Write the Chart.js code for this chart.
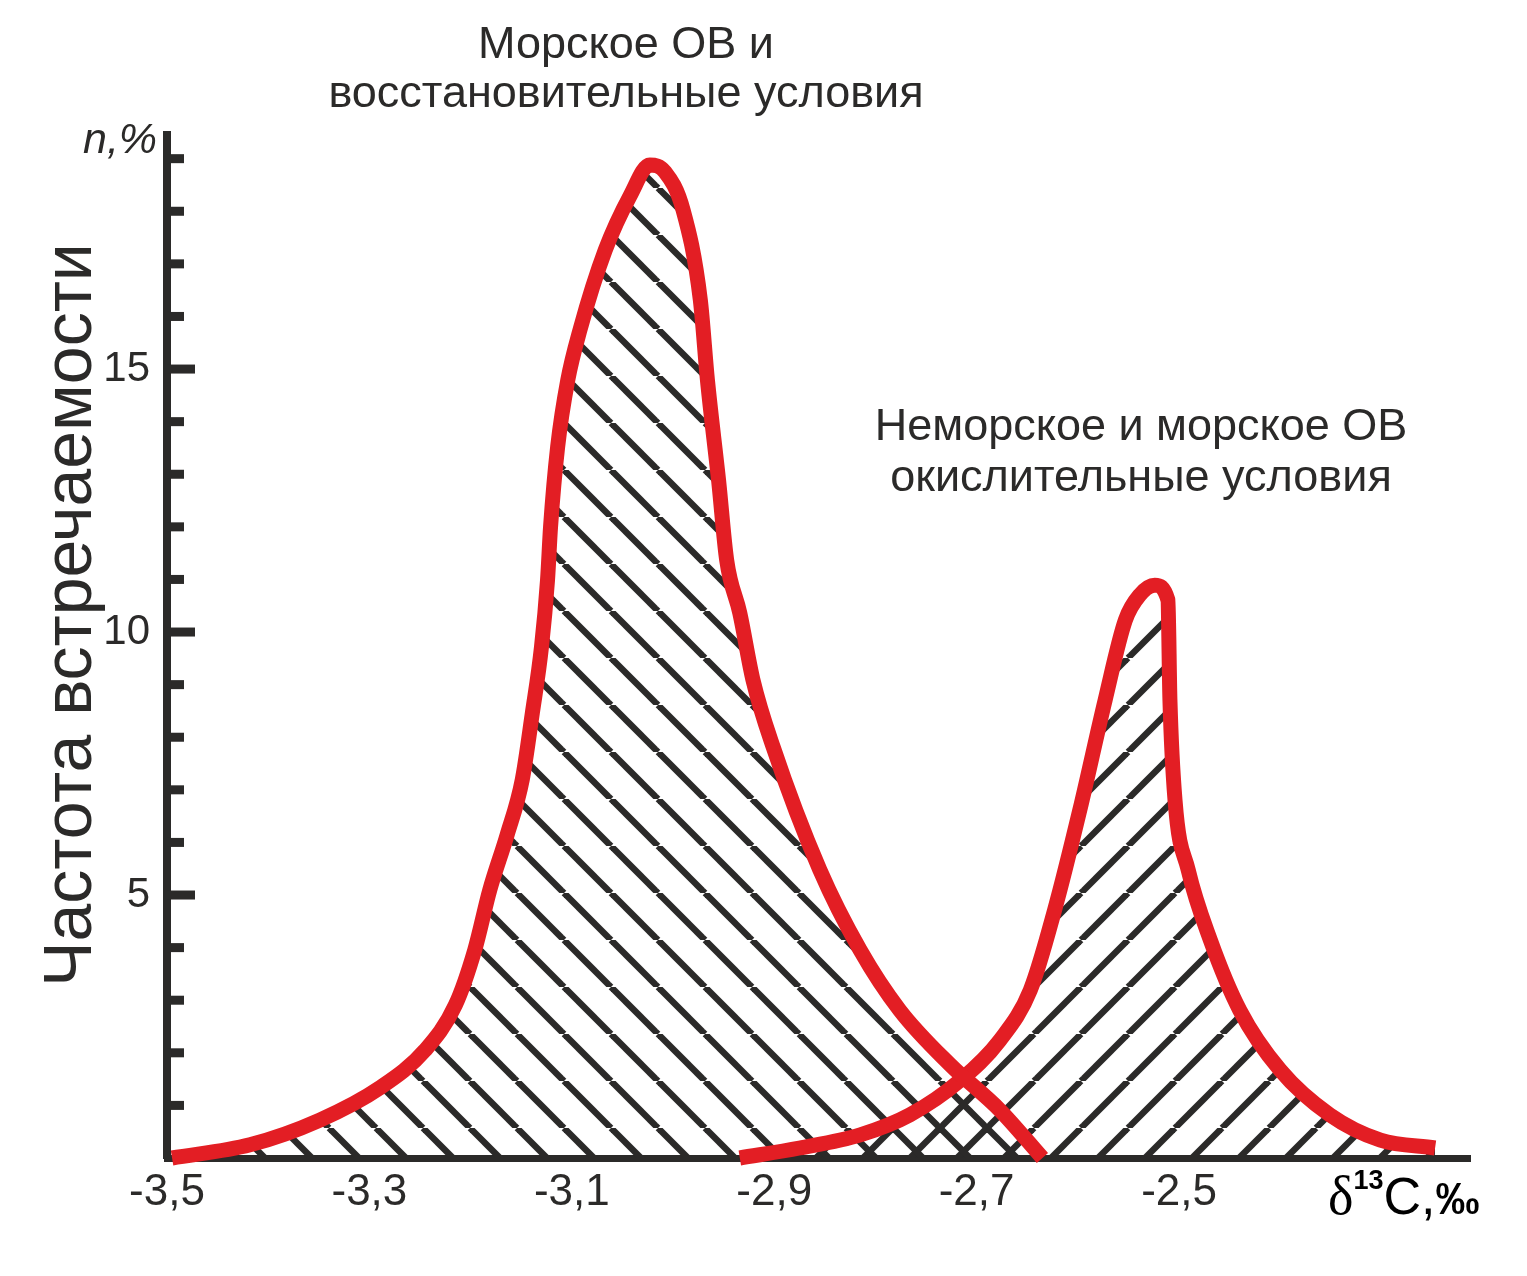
<!DOCTYPE html>
<html>
<head>
<meta charset="utf-8">
<script src="https://cdn.jsdelivr.net/npm/chart.js@4/dist/chart.umd.min.js"></script>
<style>
  html, body { margin: 0; padding: 0; background: #fff; }
  #wrap { width: 1527px; height: 1276px; }
</style>
</head>
<body>
<div id="wrap"><canvas id="chart" width="1527" height="1276"></canvas></div>
<script>
// x ticks (δ13C, ‰)
const xTickValues = [-3.5, -3.3, -3.1, -2.9, -2.7, -2.5];
const yLabelValues = [5, 10, 15];

// Морское ОВ, восстановительные условия
const marineX = [-3.495, -3.418, -3.349, -3.29, -3.245, -3.215, -3.196, -3.181, -3.164, -3.149, -3.139, -3.13, -3.124, -3.121, -3.114, -3.104, -3.092, -3.067, -3.042, -3.023, -3.008, -2.99, -2.973, -2.966, -2.955, -2.947, -2.934, -2.921, -2.901, -2.855, -2.815, -2.776, -2.726, -2.677, -2.635];
const marineY = [0, 0.25, 0.72, 1.33, 2.05, 2.91, 3.95, 5.1, 6.14, 7.19, 8.46, 9.71, 10.99, 12.0, 13.52, 14.79, 15.74, 17.26, 18.31, 18.88, 18.75, 18.02, 16.31, 14.79, 12.89, 11.37, 10.36, 9.09, 7.81, 5.48, 3.95, 2.81, 1.77, 0.91, 0];

// Неморское и морское ОВ, окислительные условия
const mixedX = [-2.934, -2.875, -2.815, -2.766, -2.716, -2.677, -2.647, -2.623, -2.598, -2.573, -2.553, -2.539, -2.524, -2.511, -2.509, -2.504, -2.491, -2.469, -2.44, -2.4, -2.351, -2.301, -2.247];
const mixedY = [0, 0.19, 0.44, 0.82, 1.48, 2.24, 3.19, 4.71, 6.62, 8.71, 10.23, 10.7, 10.89, 10.61, 8.71, 6.81, 5.48, 4.14, 2.81, 1.67, 0.82, 0.34, 0.19];

const ink = '#2b2a29';
const red = '#e31e24';

// diagonal hatch, dir 1 = "\", dir -1 = "/"
function hatch(dir) {
    const s = 47;
    const c = document.createElement('canvas');
    c.width = s; c.height = s;
    const g = c.getContext('2d');
    g.strokeStyle = ink;
    g.lineWidth = 6.5;
    for (let k = -1; k <= 1; k++) {
        g.beginPath();
        if (dir > 0) {
            g.moveTo(k * s, 0); g.lineTo(k * s + s, s);
        } else {
            g.moveTo(k * s, s); g.lineTo(k * s + s, 0);
        }
        g.stroke();
    }
    return g.createPattern(c, 'repeat');
}

const toPoints = (xs, ys) => xs.map((x, i) => ({ x: x, y: ys[i] }));

// ticks on the inner side of the y axis + free text
const extras = {
    id: 'extras',
    afterDraw(chart) {
        const ctx = chart.ctx;
        const ys = chart.scales.y;
        const left = chart.chartArea.left;
        ctx.save();
        ctx.fillStyle = ink;
        for (let v = 1; v <= 19; v++) {
            const py = ys.getPixelForValue(v);
            const len = v % 5 === 0 ? 28 : 17;
            ctx.fillRect(left, py - 4.5, len, 9);
        }

        ctx.textAlign = 'center';
        ctx.textBaseline = 'alphabetic';
        ctx.font = '45px "Liberation Sans", Arial, sans-serif';
        ctx.fillText('Морское ОВ и', 626, 58);
        ctx.fillText('восстановительные условия', 626, 107);
        ctx.fillText('Неморское и морское ОВ', 1141, 440);
        ctx.fillText('окислительные условия', 1141, 491);

        // y title
        ctx.save();
        ctx.translate(91, 615);
        ctx.rotate(-Math.PI / 2);
        ctx.font = '68px "Liberation Sans", Arial, sans-serif';
        ctx.fillText('Частота встречаемости', 0, 0);
        ctx.restore();

        // n,%
        ctx.textAlign = 'left';
        ctx.font = 'italic 43px "Liberation Sans", Arial, sans-serif';
        ctx.fillText('n,%', 83, 153);

        // δ13C,‰
        ctx.fillStyle = '#000';
        let x = 1328;
        const base = 1214;
        ctx.font = '54px "Liberation Serif", serif';
        ctx.fillText('δ', x, base);
        x += ctx.measureText('δ').width;
        ctx.font = 'bold 27px "Liberation Sans", Arial, sans-serif';
        ctx.fillText('13', x, base - 25);
        x += ctx.measureText('13').width;
        ctx.font = '52px "Liberation Sans Narrow", "Liberation Sans", Arial, sans-serif';
        ctx.fillText('C,', x, base);
        x += ctx.measureText('C,').width;
        ctx.font = 'bold 44px "Liberation Sans", Arial, sans-serif';
        ctx.fillText('‰', x, base);
        ctx.restore();
    }
};

new Chart(document.getElementById('chart').getContext('2d'), {
    type: 'line',
    data: {
        datasets: [
            {
                label: 'Морское ОВ и восстановительные условия',
                data: toPoints(marineX, marineY),
                borderColor: red,
                borderWidth: 15,
                backgroundColor: hatch(1),
                fill: 'origin',
                pointRadius: 0,
                cubicInterpolationMode: 'monotone',
                borderCapStyle: 'butt',
                clip: false
            },
            {
                label: 'Неморское и морское ОВ окислительные условия',
                data: toPoints(mixedX, mixedY),
                borderColor: red,
                borderWidth: 15,
                backgroundColor: hatch(-1),
                fill: 'origin',
                pointRadius: 0,
                cubicInterpolationMode: 'monotone',
                borderCapStyle: 'butt',
                clip: false
            }
        ]
    },
    options: {
        responsive: false,
        animation: false,
        layout: { padding: { top: 135, right: 57, left: 0, bottom: 0 } },
        plugins: {
            legend: { display: false },
            tooltip: { enabled: false },
            filler: { drawTime: 'beforeDatasetsDraw' }
        },
        scales: {
            x: {
                type: 'linear',
                min: -3.5,
                max: -2.2125,
                afterFit: s => { s.height = 118; },
                afterBuildTicks: s => { s.ticks = xTickValues.map(v => ({ value: v })); },
                grid: { display: false, drawTicks: false },
                border: { display: true, color: ink, width: 7 },
                ticks: {
                    padding: 8,
                    color: ink,
                    font: { family: '"Liberation Sans", Arial, sans-serif', size: 44 },
                    callback: v => String(v.toFixed(1)).replace('.', ',')
                }
            },
            y: {
                min: 0,
                max: 19.45,
                afterFit: s => { s.width = 167; },
                afterBuildTicks: s => { s.ticks = yLabelValues.map(v => ({ value: v })); },
                grid: { display: false, drawTicks: false },
                border: { display: true, color: ink, width: 8 },
                ticks: {
                    padding: 17,
                    color: ink,
                    font: { family: '"Liberation Sans", Arial, sans-serif', size: 42 },
                    callback: v => String(v)
                }
            }
        }
    },
    plugins: [extras]
});
</script>
</body>
</html>
